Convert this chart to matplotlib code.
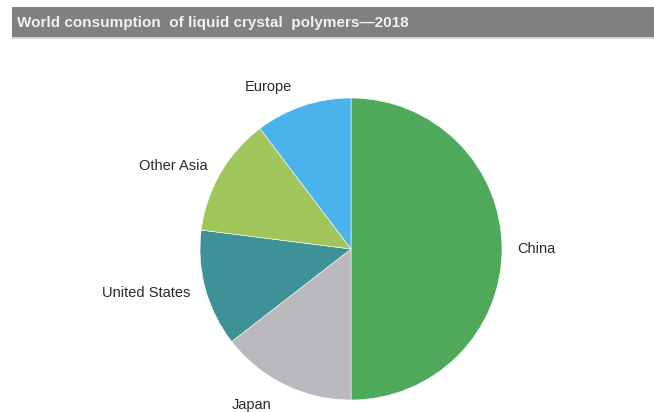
import matplotlib.pyplot as plt
from matplotlib.patches import Rectangle

# regional shares of LCP consumption, 2018 (%)
regions = ["China", "Japan", "United States", "Other Asia", "Europe"]
shares = [50.0, 14.5, 12.5, 12.7, 10.3]
colors = ["#4eaa5a", "#b8b8bd", "#3e9297", "#a0c55a", "#4ab3ec"]

W, H = 654, 412
fig = plt.figure(figsize=(W / 100, H / 100), dpi=100)

# grey title band across the top
fig.patches.append(Rectangle((12 / W, 1 - 37 / H), 1 - 12 / W, 30 / H,
                             transform=fig.transFigure, facecolor="#808080",
                             edgecolor="none"))
fig.patches.append(Rectangle((12 / W, 1 - 39 / H), 1 - 12 / W, 1.5 / H,
                             transform=fig.transFigure, facecolor="#d0d0d0",
                             edgecolor="none"))
fig.text(17 / W, 1 - 22.5 / H, "World consumption  of liquid crystal  polymers\u20142018",
         color="#f0f0f0", fontsize=11, fontweight="bold", va="center", ha="left",
         family=["Liberation Sans", "DejaVu Sans"])

# pie centred at (351, 249) px with radius 151 px
R = 151
cx, cy = 351, 249
span = 2.5 * R
ax = fig.add_axes([(cx - span / 2) / W, (H - cy - span / 2) / H, span / W, span / H])
wedges, texts = ax.pie(shares, labels=regions, colors=colors, startangle=90,
                       counterclock=False, labeldistance=1.1,
                       wedgeprops=dict(edgecolor="white", linewidth=0.4),
                       textprops=dict(fontsize=10.5, color="#2a2a2a",
                                      family=["Liberation Sans", "DejaVu Sans"]))
# Japan label sits centred under its wedge, Europe a touch higher
texts[1].set_ha("center")
texts[1].set_position((-0.66, -1.03))
texts[4].set_position((-0.39, 1.07))

ax.set_xlim(-1.25, 1.25)
ax.set_ylim(-1.25, 1.25)
ax.set_aspect("equal")
ax.axis("off")

fig.savefig("out.png", dpi=100)
